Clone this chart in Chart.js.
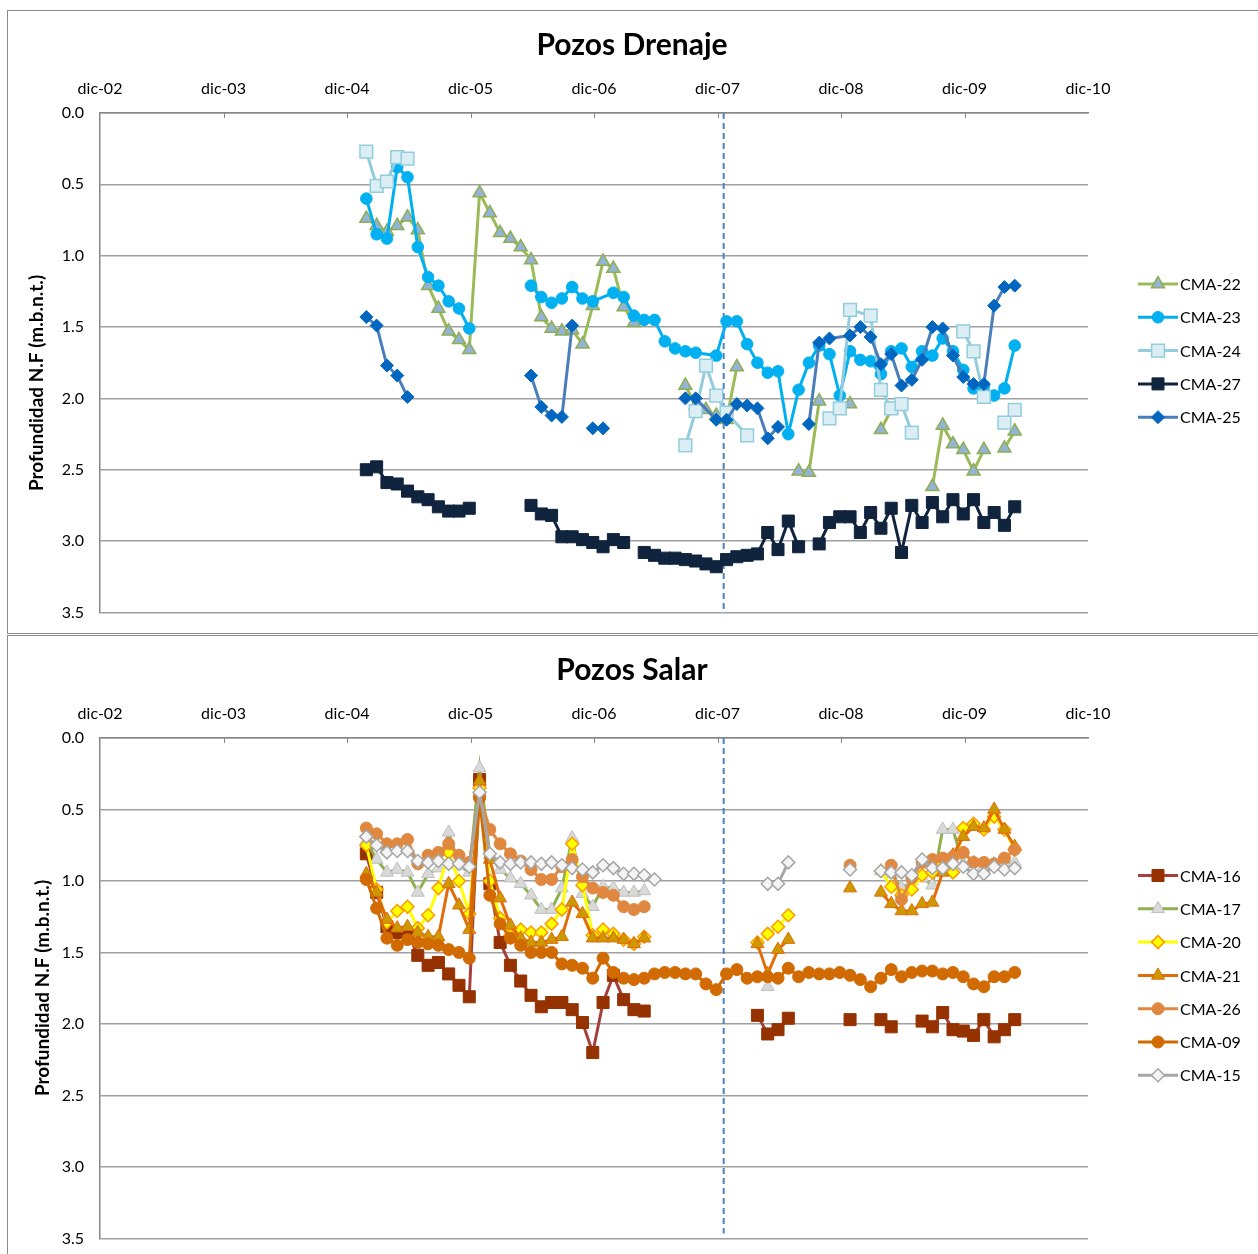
<!DOCTYPE html>
<html>
<head>
<meta charset="utf-8">
<script src="https://cdn.jsdelivr.net/npm/chart.js@4.4.1/dist/chart.umd.min.js"></script>
<style>
  html, body { margin: 0; padding: 0; background: #fff; width: 1258px; height: 1254px; overflow: hidden; position: relative; }
  .marco { position: absolute; border: 1px solid #8a8a8a; box-sizing: border-box; }
  canvas { position: absolute; left: 0; }
</style>
</head>
<body>
<div class="marco" style="left:7px;top:10px;width:1270px;height:624px"></div>
<div class="marco" style="left:7px;top:635px;width:1270px;height:640px"></div>
<canvas id="drenaje" width="1258" height="638" style="top:0"></canvas>
<canvas id="salar" width="1258" height="630" style="top:634px"></canvas>
<script>
// Fechas: meses contados desde dic-02 (0 = dic-02, 12 = dic-03, ...).
// Un valor null corta la línea (sin lectura en ese período).
function rango(a, b) { const r = []; for (let m = a; m <= b; m++) r.push(m); return r; }

// Las lecturas se toman hacia fines del mes anterior
const DESFASE_LECTURA = -0.12;
// Fecha marcada con la línea vertical discontinua
const fechaCorte = 60.6;

const etiquetasAnio = ['dic-02', 'dic-03', 'dic-04', 'dic-05', 'dic-06', 'dic-07', 'dic-08', 'dic-09', 'dic-10'];
const ticksProfundidad = [0, 0.5, 1, 1.5, 2, 2.5, 3, 3.5];

// ---------------- Pozos Drenaje ----------------
const fechas22 = [...rango(26, 52), 53, ...rango(57, 62), 63, 68, 69, 70, 71, 73, 74, 76, 77, 78, ...rango(81, 86), 87, 88, 89];
const cma22 = [0.74, 0.79, 0.83, 0.79, 0.73, 0.82, 1.21, 1.37, 1.53, 1.59, 1.66, 0.56, 0.70, 0.84, 0.88, 0.94, 1.03, 1.43, 1.51, 1.53, 1.52, 1.62, 1.35, 1.04, 1.09, 1.36, 1.47,
  null, 1.91, 2.05, 2.08, 2.12, 2.15, 1.78, null, 2.51, 2.52, 2.02, null, 2.04, null, 2.22, 2.08, null,
  2.62, 2.19, 2.32, 2.36, 2.51, 2.36, null, 2.35, 2.23];

const fechas23 = [...rango(26, 36), 39, ...rango(42, 48), ...rango(50, 58), ...rango(60, 89)];
const cma23 = [0.60, 0.85, 0.88, 0.38, 0.45, 0.94, 1.15, 1.21, 1.32, 1.37, 1.51, null,
  1.21, 1.29, 1.33, 1.30, 1.22, 1.30, 1.32, 1.26, 1.29, 1.42, 1.45, 1.45, 1.60, 1.65, 1.67, 1.68,
  1.70, 1.46, 1.46, 1.62, 1.75, 1.82, 1.81, 2.25, 1.94, 1.75, 1.63, 1.69, 1.98, 1.67, 1.73, 1.74, 1.83,
  1.67, 1.65, 1.78, 1.67, 1.70, 1.58, 1.67, 1.80, 1.93, 1.91, 1.98, 1.93, 1.63];

const fechas24 = [...rango(26, 30), 40, ...rango(57, 61), 63, 67, 71, 72, 73, 75, 76, 77, 78, 79, 82, 84, 85, 86, 87, 88, 89];
const cma24 = [0.27, 0.51, 0.48, 0.31, 0.32, null, 2.33, 2.09, 1.77, 1.98, 2.10, 2.26, null,
  2.14, 2.07, 1.38, 1.42, 1.94, 2.07, 2.04, 2.24, null, 1.53, 1.67, 1.99, null, 2.17, 2.08];

const fechas27 = [...rango(26, 36), 39, ...rango(42, 51), 52, ...rango(53, 68), 69, ...rango(70, 89)];
const cma27 = [2.50, 2.48, 2.59, 2.60, 2.65, 2.69, 2.71, 2.76, 2.79, 2.79, 2.77, null,
  2.75, 2.81, 2.82, 2.97, 2.97, 2.99, 3.01, 3.04, 2.99, 3.01, null,
  3.08, 3.10, 3.12, 3.12, 3.13, 3.14, 3.16, 3.18, 3.13, 3.11, 3.10, 3.09, 2.94, 3.06, 2.86, 3.04, null,
  3.02, 2.87, 2.83, 2.83, 2.94, 2.80, 2.91, 2.77, 3.08, 2.75, 2.87, 2.73, 2.83, 2.71, 2.81, 2.71, 2.87, 2.80, 2.89, 2.76];

const fechas25 = [...rango(26, 30), 36, ...rango(42, 46), 47, 48, 49, 53, 57, 58, ...rango(60, 66), 67, 69, 70, 71, ...rango(73, 89)];
const cma25 = [1.43, 1.49, 1.77, 1.84, 1.99, null, 1.84, 2.06, 2.12, 2.13, 1.49, null, 2.21, 2.21, null,
  2.00, 2.00, 2.15, 2.15, 2.04, 2.05, 2.07, 2.28, 2.20, null, 2.18, 1.61, 1.58,
  1.56, 1.50, 1.57, 1.76, 1.69, 1.91, 1.87, 1.73, 1.50, 1.51, 1.70, 1.85, 1.90, 1.90, 1.35, 1.22, 1.21];

// ---------------- Pozos Salar ----------------
const fechas16 = [...rango(26, 53), 58, ...rango(64, 67), 70, 73, 75, 76, 77, 79, ...rango(80, 89)];
const cma16 = [0.81, 1.08, 1.32, 1.36, 1.36, 1.52, 1.59, 1.57, 1.65, 1.73, 1.81, 0.29, 1.02, 1.43, 1.59, 1.70, 1.80, 1.88, 1.85, 1.85,
  1.90, 1.99, 2.20, 1.85, 1.66, 1.83, 1.90, 1.91, null, 1.94, 2.07, 2.04, 1.96, null, 1.97, null, 1.97, 2.02, null,
  1.98, 2.02, 1.92, 2.04, 2.05, 2.08, 1.97, 2.09, 2.04, 1.97];

const fechas17 = [...rango(26, 53), 58, 65, 70, ...rango(76, 89)];
const cma17 = [0.72, 0.85, 0.94, 0.92, 0.94, 1.08, 0.95, 0.91, 0.66, 0.89, 0.94, 0.21, 0.82, 0.92, 0.98, 1.02, 1.10, 1.20, 1.20, 1.05,
  0.70, 1.09, 1.18, 1.04, 1.05, 1.08, 1.08, 1.07, null, 1.74, null,
  0.93, 0.95, 1.05, 1.00, 0.98, 1.03, 0.64, 0.64, 0.88, 0.87, 0.90, 0.88, 0.88, 0.87];

const fechas20 = [...rango(26, 53), 58, ...rango(64, 67), 70, ...rango(76, 89)];
const cma20 = [0.75, 1.06, 1.29, 1.21, 1.18, 1.33, 1.24, 1.05, 0.80, 1.00, 1.23, 0.35, 1.00, 1.26, 1.38, 1.34, 1.36, 1.36, 1.30, 1.20,
  0.74, 1.03, 1.38, 1.34, 1.37, 1.41, 1.44, 1.39, null, 1.43, 1.37, 1.32, 1.24, null,
  0.93, 1.04, 1.10, 1.06, 0.96, 0.94, 0.88, 0.94, 0.63, 0.60, 0.64, 0.55, 0.64, 0.78];

const fechas21 = [...rango(26, 53), 58, ...rango(64, 67), 70, 73, 75, ...rango(76, 89)];
const cma21 = [0.95, 1.08, 1.27, 1.33, 1.32, 1.36, 1.39, 1.39, 1.02, 1.17, 1.34, 0.30, 0.85, 1.12, 1.31, 1.40, 1.43, 1.43, 1.41, 1.39,
  1.15, 1.23, 1.40, 1.40, 1.40, 1.41, 1.44, 1.40, null, 1.44, 1.65, 1.48, 1.41, null, 1.05, null,
  1.08, 1.16, 1.21, 1.21, 1.16, 1.15, 0.94, 0.82, 0.69, 0.62, 0.63, 0.50, 0.64, 0.76];

const fechas26 = [...rango(26, 53), 63, 73, 75, ...rango(77, 89)];
const cma26 = [0.63, 0.67, 0.74, 0.74, 0.71, 0.88, 0.82, 0.80, 0.74, 0.82, 0.87, 0.40, 0.64, 0.74, 0.81, 0.86, 0.92, 0.99, 0.99, 0.90,
  0.85, 0.97, 1.05, 1.08, 1.10, 1.18, 1.20, 1.18, null, 0.89, null,
  0.89, 1.13, 0.98, 0.87, 0.85, 0.84, 0.83, 0.80, 0.87, 0.87, 0.88, 0.84, 0.78];

const fechas09 = rango(26, 89);
const cma09 = [0.99, 1.19, 1.40, 1.45, 1.41, 1.43, 1.44, 1.45, 1.48, 1.50,
  1.54, 0.42, 1.10, 1.30, 1.40, 1.45, 1.50, 1.50, 1.50, 1.58,
  1.59, 1.61, 1.68, 1.54, 1.64, 1.68, 1.69, 1.68, 1.65, 1.64,
  1.64, 1.65, 1.65, 1.72, 1.76, 1.65, 1.62, 1.68, 1.67, 1.67,
  1.68, 1.61, 1.67, 1.64, 1.65, 1.65, 1.64, 1.66, 1.69, 1.74,
  1.68, 1.62, 1.67, 1.64, 1.63, 1.63, 1.65, 1.64, 1.67, 1.72,
  1.74, 1.67, 1.67, 1.64];

const fechas15 = [...rango(26, 54), 59, ...rango(65, 67), 70, 73, 75, ...rango(76, 89)];
const cma15 = [0.69, 0.75, 0.80, 0.79, 0.79, 0.86, 0.87, 0.86, 0.88, 0.88, 0.90, 0.38, 0.81, 0.87, 0.88, 0.87, 0.87, 0.88, 0.87, 0.89,
  0.91, 0.92, 0.94, 0.89, 0.91, 0.95, 0.95, 0.96, 0.99, null, 1.02, 1.02, 0.87, null, 0.92, null,
  0.93, 0.94, 0.94, 0.96, 0.85, 0.91, 0.91, 0.88, 0.90, 0.95, 0.95, 0.90, 0.92, 0.91];

// ---------------- Construcción de los gráficos ----------------
const FUENTE = 'Lato, "Open Sans", "DejaVu Sans", sans-serif';
Chart.defaults.font.family = FUENTE;
Chart.defaults.color = '#000';

function puntos(fechas, valores) {
  return fechas.map((m, i) => ({ x: m + DESFASE_LECTURA, y: valores[i] }));
}

function serie(nombre, fechas, valores, est, i) {
  return {
    label: nombre,
    data: puntos(fechas, valores),
    borderColor: est.linea,
    backgroundColor: est.relleno,
    borderWidth: 3,
    pointStyle: est.forma,
    pointRadius: est.radio,
    pointHoverRadius: est.radio,
    pointBackgroundColor: est.relleno,
    pointBorderColor: est.borde,
    pointBorderWidth: est.bordeGrosor,
    tension: 0,
    spanGaps: false,
    order: -i   // las series posteriores quedan por encima
  };
}

function marcador(ctx, ds, x, y) {
  ctx.save();
  ctx.fillStyle = ds.pointBackgroundColor;
  ctx.strokeStyle = ds.pointBorderColor;
  ctx.lineWidth = ds.pointBorderWidth;
  Chart.helpers.drawPoint(ctx, { pointStyle: ds.pointStyle, radius: ds.pointRadius, rotation: 0, borderWidth: ds.pointBorderWidth }, x, y);
  ctx.restore();
}

// Título, rótulo del eje Y, marcas interiores del eje X, línea de corte y leyenda
const decoracion = {
  id: 'decoracion',
  beforeDatasetsDraw(chart, args, o) {
    const { ctx, chartArea: a, scales } = chart;
    const x = scales.x.getPixelForValue(fechaCorte);
    ctx.save();
    ctx.strokeStyle = '#4F81BD';
    ctx.lineWidth = 2;
    ctx.setLineDash([6, 4]);
    ctx.beginPath();
    ctx.moveTo(x, a.top);
    ctx.lineTo(x, a.bottom - o.cortaAbajo);
    ctx.stroke();
    ctx.restore();
  },
  afterDraw(chart, args, o) {
    const { ctx, chartArea: a, scales } = chart;
    ctx.save();
    // marcas de los años hacia dentro del área
    ctx.strokeStyle = '#868686';
    ctx.lineWidth = 1;
    for (let v = 12; v < 96; v += 12) {
      const px = Math.round(scales.x.getPixelForValue(v)) + 0.5;
      ctx.beginPath();
      ctx.moveTo(px, a.top);
      ctx.lineTo(px, a.top + 5);
      ctx.stroke();
    }
    // título
    ctx.fillStyle = '#000';
    ctx.textAlign = 'center';
    ctx.textBaseline = 'middle';
    ctx.font = 'bold 30px ' + FUENTE;
    ctx.fillText(o.titulo, o.tituloX, o.tituloY);
    // rótulo del eje Y
    ctx.save();
    ctx.translate(o.rotuloX, o.rotuloY);
    ctx.rotate(-Math.PI / 2);
    ctx.font = 'bold 19px ' + FUENTE;
    ctx.fillText('Profundidad N.F (m.b.n.t.)', 0, 0);
    ctx.restore();
    // leyenda
    ctx.font = '16px ' + FUENTE;
    ctx.textAlign = 'left';
    chart.data.datasets.forEach((ds, i) => {
      const y = o.leyendaY + i * 33.3;
      ctx.strokeStyle = ds.borderColor;
      ctx.lineWidth = 3;
      ctx.beginPath();
      ctx.moveTo(1138, y);
      ctx.lineTo(1178, y);
      ctx.stroke();
      marcador(ctx, ds, 1158, y);
      ctx.fillStyle = '#000';
      ctx.fillText(ds.label, 1180, y + 1);
    });
    ctx.restore();
  }
};

function opciones(cfg) {
  return {
    responsive: false,
    animation: false,
    devicePixelRatio: 1,
    layout: { autoPadding: false, padding: { top: cfg.arriba, right: 170, bottom: 0, left: 0 } },
    plugins: {
      legend: { display: false },
      tooltip: { enabled: false },
      decoracion: cfg.deco
    },
    scales: {
      x: {
        type: 'linear',
        position: 'top',
        min: 0, max: 96,
        afterFit(s) { s.height = 40; },
        afterBuildTicks(s) { s.ticks = etiquetasAnio.map((t, i) => ({ value: i * 12 })); },
        ticks: {
          autoSkip: false, maxRotation: 0, padding: 15,
          font: { size: 16 }, color: '#000',
          callback: (v) => etiquetasAnio[Math.round(v / 12)]
        },
        grid: { drawOnChartArea: false, drawTicks: false },
        border: { display: true, color: '#868686', width: 1.5 }
      },
      y: {
        type: 'linear',
        reverse: true,
        min: 0, max: 3.5,
        afterFit(s) { s.width = 100; },
        afterBuildTicks(s) { s.ticks = ticksProfundidad.map(v => ({ value: v })); },
        ticks: {
          padding: 16, font: { size: 16 }, color: '#000',
          callback: (v) => Number(v).toFixed(1)
        },
        grid: { color: '#A0A0A0', lineWidth: 1.5, drawTicks: false },
        border: { display: true, color: '#868686', width: 1.5 }
      }
    }
  };
}

const estilosDrenaje = {
  'CMA-22': { linea: '#9BBB59', forma: 'triangle', radio: 7.5, relleno: '#95B3D7', borde: '#8DAE52', bordeGrosor: 1.5 },
  'CMA-23': { linea: '#00B0F0', forma: 'circle', radio: 5.8, relleno: '#00B0F0', borde: '#00B0F0', bordeGrosor: 1 },
  'CMA-24': { linea: '#93CDDD', forma: 'rect', radio: 9, relleno: '#DBEEF4', borde: '#93CDDD', bordeGrosor: 1.5 },
  'CMA-27': { linea: '#10243E', forma: 'rect', radio: 8.5, relleno: '#10243E', borde: '#10243E', bordeGrosor: 1 },
  'CMA-25': { linea: '#4A7EBB', forma: 'rectRot', radio: 6.5, relleno: '#0066C0', borde: '#0066C0', bordeGrosor: 1 }
};

const estilosSalar = {
  'CMA-16': { linea: '#A4413D', forma: 'rect', radio: 8.5, relleno: '#963200', borde: '#963200', bordeGrosor: 1 },
  'CMA-17': { linea: '#8FB04F', forma: 'triangle', radio: 7.5, relleno: '#D9D9D9', borde: '#BFBFBF', bordeGrosor: 1 },
  'CMA-20': { linea: '#FFFF00', forma: 'rectRot', radio: 6.5, relleno: '#FFFF00', borde: '#FF9900', bordeGrosor: 1.5 },
  'CMA-21': { linea: '#E26B0A', forma: 'triangle', radio: 7.5, relleno: '#CC9900', borde: '#E26B0A', bordeGrosor: 1 },
  'CMA-26': { linea: '#E0883F', forma: 'circle', radio: 6, relleno: '#E0883F', borde: '#E0883F', bordeGrosor: 1 },
  'CMA-09': { linea: '#D26A02', forma: 'circle', radio: 6, relleno: '#D26A02', borde: '#D26A02', bordeGrosor: 1 },
  'CMA-15': { linea: '#A6A6A6', forma: 'rectRot', radio: 6.5, relleno: '#F4F4F4', borde: '#A6A6A6', bordeGrosor: 1.5 }
};

const seriesDrenaje = [
  ['CMA-22', fechas22, cma22], ['CMA-23', fechas23, cma23], ['CMA-24', fechas24, cma24],
  ['CMA-27', fechas27, cma27], ['CMA-25', fechas25, cma25]
];
const seriesSalar = [
  ['CMA-16', fechas16, cma16], ['CMA-17', fechas17, cma17], ['CMA-20', fechas20, cma20],
  ['CMA-21', fechas21, cma21], ['CMA-26', fechas26, cma26], ['CMA-09', fechas09, cma09],
  ['CMA-15', fechas15, cma15]
];

new Chart(document.getElementById('drenaje'), {
  type: 'line',
  data: { datasets: seriesDrenaje.map(([n, f, v], i) => serie(n, f, v, estilosDrenaje[n], i)) },
  options: opciones({
    arriba: 73,
    deco: { titulo: 'Pozos Drenaje', tituloX: 632, tituloY: 45, rotuloX: 37, rotuloY: 383, leyendaY: 284, cortaAbajo: 0 }
  }),
  plugins: [decoracion]
});

new Chart(document.getElementById('salar'), {
  type: 'line',
  data: { datasets: seriesSalar.map(([n, f, v], i) => serie(n, f, v, estilosSalar[n], i)) },
  options: opciones({
    arriba: 64,
    deco: { titulo: 'Pozos Salar', tituloX: 632, tituloY: 36, rotuloX: 43, rotuloY: 354, leyendaY: 241.5, cortaAbajo: 5 }
  }),
  plugins: [decoracion]
});
</script>
</body>
</html>
